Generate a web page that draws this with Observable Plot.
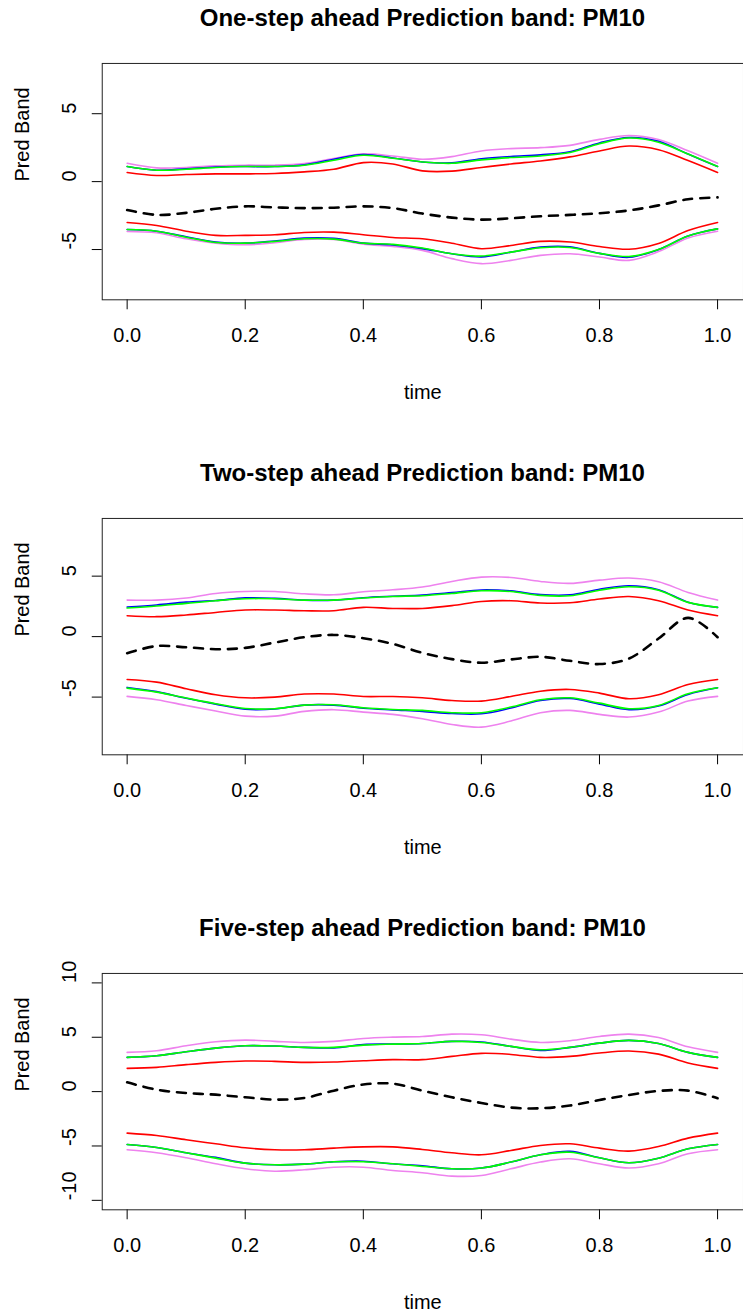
<!DOCTYPE html>
<html>
<head>
<meta charset="utf-8">
<script src="https://cdn.jsdelivr.net/npm/d3@7"></script>
<script src="https://cdn.jsdelivr.net/npm/@observablehq/plot@0.6"></script>
<style>
html, body { margin: 0; padding: 0; background: #fff; overflow: hidden; }
#page { position: relative; width: 743px; height: 1313px; overflow: hidden; font-family: "Liberation Sans", Arial, sans-serif; }
.panel { position: absolute; left: 0; width: 743px; height: 455px; overflow: hidden; }
.title { position: absolute; left: 100px; width: 645px; top: 6px; text-align: center; font-weight: bold; font-size: 24px; line-height: 24px; color: #000; white-space: nowrap; }
.chart { position: absolute; left: 0; top: 43px; }
</style>
</head>
<body>
<div id="page"></div>
<script>
// ---- shared grid and ticks ----
const time = [0, 0.05, 0.1, 0.15, 0.2, 0.25, 0.3, 0.35, 0.4, 0.45, 0.5, 0.55, 0.6, 0.65, 0.7, 0.75, 0.8, 0.85, 0.9, 0.95, 1.0];
const xTicks = [0, 0.2, 0.4, 0.6, 0.8, 1.0];
const titles = ["One-step ahead Prediction band: PM10", "Two-step ahead Prediction band: PM10", "Five-step ahead Prediction band: PM10"];
const yTicks12 = [-5, 0, 5];
const yTicks3 = [-10, -5, 0, 5, 10];

// ---- panel 1: one-step ahead ----
const p1VioletUp = [1.35, 1.01, 1.04, 1.16, 1.21, 1.21, 1.33, 1.70, 2.04, 1.89, 1.65, 1.84, 2.26, 2.43, 2.50, 2.67, 3.11, 3.40, 3.10, 2.27, 1.35];
const p1BlueUp   = [1.11, 0.84, 0.95, 1.08, 1.11, 1.11, 1.23, 1.65, 2.00, 1.74, 1.45, 1.38, 1.68, 1.85, 1.97, 2.20, 2.85, 3.25, 2.97, 2.03, 1.11];
const p1GreenUp  = [1.11, 0.84, 0.91, 1.04, 1.11, 1.11, 1.21, 1.57, 1.94, 1.72, 1.45, 1.35, 1.60, 1.77, 1.89, 2.14, 2.79, 3.21, 2.90, 2.03, 1.11];
const p1RedUp    = [0.67, 0.45, 0.52, 0.57, 0.57, 0.60, 0.72, 0.91, 1.40, 1.30, 0.79, 0.77, 1.04, 1.30, 1.52, 1.82, 2.26, 2.62, 2.35, 1.55, 0.67];
const p1Center   = [-2.09, -2.45, -2.30, -2.00, -1.82, -1.90, -1.95, -1.92, -1.82, -1.95, -2.35, -2.65, -2.80, -2.70, -2.55, -2.45, -2.33, -2.12, -1.75, -1.30, -1.16];
const p1RedLow   = [-3.01, -3.23, -3.65, -3.96, -3.96, -3.91, -3.74, -3.72, -3.91, -4.11, -4.21, -4.54, -4.94, -4.70, -4.40, -4.45, -4.78, -4.98, -4.55, -3.60, -3.01];
const p1BlueLow  = [-3.53, -3.65, -4.06, -4.44, -4.53, -4.37, -4.16, -4.18, -4.53, -4.66, -4.93, -5.31, -5.54, -5.19, -4.82, -4.80, -5.28, -5.57, -5.00, -4.00, -3.48];
const p1GreenLow = [-3.53, -3.65, -4.09, -4.48, -4.53, -4.40, -4.21, -4.23, -4.53, -4.62, -4.89, -5.31, -5.48, -5.19, -4.87, -4.85, -5.28, -5.51, -5.00, -4.00, -3.48];
const p1VioletLow= [-3.67, -3.77, -4.21, -4.53, -4.65, -4.50, -4.26, -4.26, -4.60, -4.77, -5.06, -5.67, -6.04, -5.80, -5.43, -5.31, -5.55, -5.80, -5.15, -4.15, -3.65];

// ---- panel 2: two-step ahead ----
const p2VioletUp = [3.02, 3.02, 3.19, 3.57, 3.73, 3.73, 3.54, 3.46, 3.71, 3.87, 4.10, 4.56, 4.92, 4.89, 4.56, 4.40, 4.67, 4.84, 4.54, 3.65, 3.02];
const p2BlueUp   = [2.45, 2.62, 2.85, 2.99, 3.20, 3.16, 3.02, 3.02, 3.22, 3.34, 3.44, 3.64, 3.86, 3.78, 3.48, 3.46, 3.92, 4.20, 3.88, 2.85, 2.42];
const p2GreenUp  = [2.36, 2.53, 2.75, 2.97, 3.13, 3.13, 3.02, 3.02, 3.19, 3.32, 3.38, 3.57, 3.79, 3.73, 3.41, 3.38, 3.84, 4.12, 3.84, 2.83, 2.42];
const p2RedUp    = [1.73, 1.65, 1.79, 2.00, 2.20, 2.20, 2.14, 2.14, 2.42, 2.33, 2.33, 2.56, 2.91, 2.97, 2.78, 2.80, 3.11, 3.32, 2.97, 2.20, 1.73];
const p2Center   = [-1.37, -0.78, -0.88, -1.04, -0.93, -0.49, -0.05, 0.14, -0.13, -0.60, -1.34, -1.86, -2.16, -1.89, -1.67, -2.00, -2.27, -1.81, -0.16, 1.55, -0.05];
const p2RedLow   = [-3.54, -3.76, -4.31, -4.81, -5.06, -5.00, -4.75, -4.75, -4.95, -4.95, -5.06, -5.28, -5.33, -4.95, -4.51, -4.37, -4.67, -5.14, -4.81, -3.96, -3.54];
const p2BlueLow  = [-4.20, -4.55, -5.10, -5.58, -6.00, -5.98, -5.66, -5.66, -5.92, -6.06, -6.18, -6.36, -6.38, -5.90, -5.28, -5.12, -5.58, -6.04, -5.74, -4.78, -4.23];
const p2GreenLow = [-4.26, -4.59, -5.08, -5.55, -5.94, -5.96, -5.66, -5.63, -5.88, -6.02, -6.10, -6.29, -6.29, -5.82, -5.22, -5.06, -5.50, -5.96, -5.69, -4.73, -4.23];
const p2VioletLow= [-4.94, -5.22, -5.69, -6.15, -6.57, -6.57, -6.18, -6.04, -6.24, -6.43, -6.79, -7.26, -7.48, -6.98, -6.29, -6.10, -6.43, -6.65, -6.24, -5.33, -4.94];

// ---- panel 3: five-step ahead ----
const p3VioletUp = [3.61, 3.76, 4.22, 4.59, 4.74, 4.62, 4.52, 4.62, 4.89, 5.01, 5.07, 5.29, 5.23, 4.83, 4.52, 4.68, 5.07, 5.29, 4.98, 4.12, 3.61];
const p3BlueUp   = [3.15, 3.30, 3.67, 4.00, 4.22, 4.19, 4.07, 4.02, 4.33, 4.37, 4.43, 4.62, 4.57, 4.16, 3.78, 4.07, 4.46, 4.71, 4.43, 3.61, 3.15];
const p3GreenUp  = [3.15, 3.30, 3.67, 4.00, 4.22, 4.19, 4.07, 4.07, 4.28, 4.37, 4.43, 4.62, 4.52, 4.16, 3.85, 4.07, 4.46, 4.71, 4.43, 3.61, 3.15];
const p3RedUp    = [2.14, 2.23, 2.48, 2.69, 2.81, 2.78, 2.69, 2.72, 2.84, 2.94, 2.94, 3.24, 3.52, 3.42, 3.15, 3.24, 3.55, 3.73, 3.45, 2.63, 2.14];
const p3Center   = [0.86, 0.18, -0.13, -0.28, -0.52, -0.73, -0.58, 0.09, 0.65, 0.73, 0.09, -0.52, -1.04, -1.47, -1.53, -1.28, -0.77, -0.31, 0.06, 0.09, -0.61];
const p3RedLow   = [-3.82, -4.04, -4.43, -4.80, -5.17, -5.35, -5.35, -5.20, -5.08, -5.08, -5.32, -5.63, -5.81, -5.41, -4.95, -4.80, -5.20, -5.47, -5.05, -4.28, -3.82];
const p3BlueLow  = [-4.86, -5.14, -5.63, -6.05, -6.58, -6.73, -6.67, -6.45, -6.40, -6.64, -6.82, -7.10, -7.03, -6.48, -5.81, -5.50, -6.09, -6.54, -6.12, -5.26, -4.86];
const p3GreenLow = [-4.86, -5.14, -5.63, -6.12, -6.58, -6.73, -6.67, -6.45, -6.45, -6.64, -6.88, -7.10, -7.03, -6.48, -5.81, -5.57, -6.09, -6.54, -6.12, -5.26, -4.86];
const p3VioletLow= [-5.35, -5.63, -6.09, -6.64, -7.10, -7.32, -7.19, -6.95, -6.95, -7.25, -7.46, -7.77, -7.71, -7.10, -6.48, -6.18, -6.64, -7.03, -6.64, -5.72, -5.35];

const panels = [
  {title: titles[0], yDomain: [-8.7, 8.7], yTicks: yTicks12,
   violet: [p1VioletUp, p1VioletLow], blue: [p1BlueUp, p1BlueLow], green: [p1GreenUp, p1GreenLow], red: [p1RedUp, p1RedLow], center: p1Center},
  {title: titles[1], yDomain: [-9.77, 9.77], yTicks: yTicks12,
   violet: [p2VioletUp, p2VioletLow], blue: [p2BlueUp, p2BlueLow], green: [p2GreenUp, p2GreenLow], red: [p2RedUp, p2RedLow], center: p2Center},
  {title: titles[2], yDomain: [-10.87, 10.87], yTicks: yTicks3,
   violet: [p3VioletUp, p3VioletLow], blue: [p3BlueUp, p3BlueLow], green: [p3GreenUp, p3GreenLow], red: [p3RedUp, p3RedLow], center: p3Center}
];

const toRows = vals => vals.map((v, i) => ({t: time[i], v}));
const lineOpts = {x: "t", y: "v", curve: "catmull-rom"};

function makeChart(cfg) {
  const marks = [Plot.frame({stroke: "#222", strokeWidth: 1})];
  const groups = [["violet", "#EE82EE"], ["blue", "#0000FF"], ["green", "#00FF00"], ["red", "#FF0000"]];
  for (const [key, color] of groups) {
    for (const vals of cfg[key]) {
      marks.push(Plot.line(toRows(vals), {...lineOpts, stroke: color, strokeWidth: 1.6}));
    }
  }
  marks.push(Plot.line(toRows(cfg.center), {...lineOpts, stroke: "#000", strokeWidth: 2.6, strokeDasharray: "9,8"}));
  marks.push(Plot.text(cfg.yTicks, {y: d => d, text: d => String(d), frameAnchor: "left", dx: -26.5, rotate: -90, lineAnchor: "bottom"}));
  marks.push(Plot.text(["Pred Band"], {text: d => d, frameAnchor: "left", dx: -73, rotate: -90, lineAnchor: "bottom"}));
  marks.push(Plot.text(["time"], {text: d => d, frameAnchor: "bottom", dy: 99, lineAnchor: "bottom"}));
  return Plot.plot({
    width: 745, height: 367,
    marginTop: 20, marginBottom: 110, marginLeft: 102, marginRight: 0,
    style: {fontFamily: "'Liberation Sans', Arial, sans-serif", fontSize: "20px", background: "transparent", color: "#000", overflow: "visible"},
    x: {domain: [-0.0422, 1.0439], ticks: xTicks, tickSize: 10, tickPadding: 18, tickFormat: d3.format(".1f"), label: null},
    y: {domain: cfg.yDomain, ticks: cfg.yTicks, tickSize: 10, tickFormat: () => "", label: null},
    marks
  });
}

const page = document.getElementById("page");
panels.forEach((cfg, k) => {
  const panel = document.createElement("div");
  panel.className = "panel";
  panel.style.top = (455 * k) + "px";
  const title = document.createElement("div");
  title.className = "title";
  title.textContent = cfg.title;
  panel.appendChild(title);
  const holder = document.createElement("div");
  holder.className = "chart";
  holder.appendChild(makeChart(cfg));
  panel.appendChild(holder);
  page.appendChild(panel);
});
</script>
</body>
</html>
